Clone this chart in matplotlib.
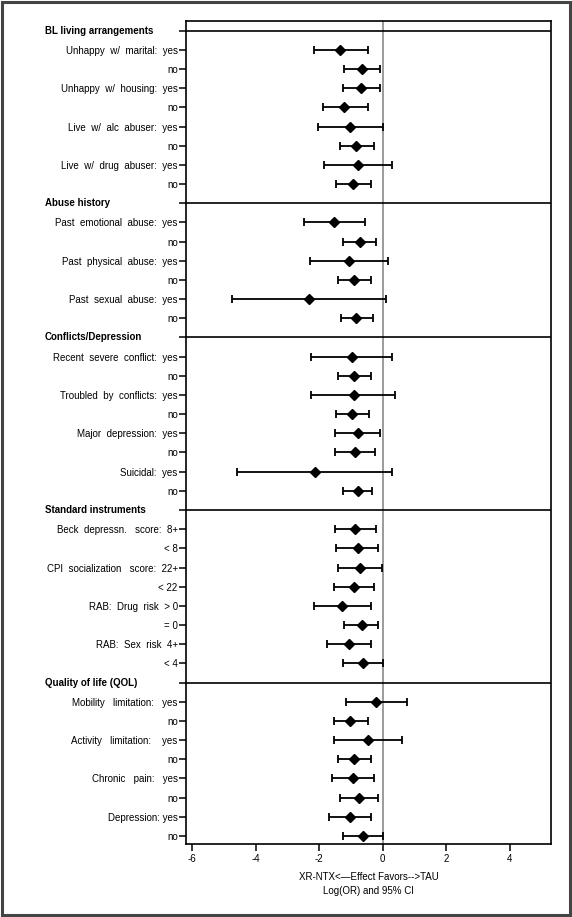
import numpy as np
import matplotlib
matplotlib.use("Agg")
import matplotlib.pyplot as plt
from matplotlib.patches import Rectangle
import matplotlib.transforms as mtransforms

plt.rcParams['font.family'] = ['Liberation Sans', 'DejaVu Sans']

# ---- data ----------------------------------------------------------
sections = ["BL living arrangements", "Abuse history", "Conflicts/Depression",
            "Standard instruments", "Quality of life (QOL)"]
section_sizes = [8, 6, 8, 8, 8]

row_labels = [
    "Unhappy  w/  marital:  yes", "no", "Unhappy  w/  housing:  yes", "no",
    "Live  w/  alc  abuser:  yes", "no", "Live  w/  drug  abuser:  yes", "no",
    "Past  emotional  abuse:  yes", "no", "Past  physical  abuse:  yes", "no",
    "Past  sexual  abuse:  yes", "no",
    "Recent  severe  conflict:  yes", "no", "Troubled  by  conflicts:  yes", "no",
    "Major  depression:  yes", "no", "Suicidal:  yes", "no",
    "Beck  depressn.   score:  8+", "< 8", "CPI  socialization   score:  22+", "< 22",
    "RAB:  Drug  risk  > 0", "= 0", "RAB:  Sex  risk  4+", "< 4",
    "Mobility   limitation:   yes", "no", "Activity   limitation:    yes", "no",
    "Chronic   pain:   yes", "no", "Depression: yes", "no",
]

log_or = [-1.34, -0.65, -0.68, -1.21, -1.02, -0.83, -0.77, -0.94,
          -1.55, -0.71, -1.06, -0.92, -2.32, -0.83,
          -0.98, -0.92, -0.91, -0.96, -0.79, -0.86, -2.15, -0.77,
          -0.86, -0.79, -0.71, -0.92, -1.29, -0.65, -1.06, -0.62,
          -0.22, -1.02, -0.48, -0.91, -0.94, -0.75, -1.03, -0.63]
ci_low = [-2.18, -1.21, -1.26, -1.89, -2.03, -1.34, -1.84, -1.46,
          -2.49, -1.26, -2.28, -1.40, -4.75, -1.31,
          -2.25, -1.41, -2.25, -1.46, -1.50, -1.50, -4.58, -1.26,
          -1.50, -1.46, -1.41, -1.55, -2.18, -1.21, -1.75, -1.26,
          -1.16, -1.55, -1.55, -1.40, -1.61, -1.34, -1.69, -1.26]
ci_high = [-0.48, -0.08, -0.08, -0.48, 0.00, -0.29, 0.30, -0.37,
           -0.57, -0.20, 0.17, -0.37, 0.11, -0.31,
           0.30, -0.37, 0.40, -0.42, -0.08, -0.23, 0.30, -0.33,
           -0.20, -0.14, -0.02, -0.29, -0.37, -0.14, -0.37, 0.00,
           0.75, -0.48, 0.61, -0.37, -0.29, -0.14, -0.37, 0.00]

xticks = [-6, -4, -2, 0, 2, 4]

# ---- positions: header rows + item rows, top to bottom -------------
header_pos = []
row_pos = []
k = 0
for n in section_sizes:
    header_pos.append(k)
    k += 1
    for i in range(n):
        row_pos.append(k)
        k += 1
n_pos = k

fig = plt.figure(figsize=(5.72, 9.17), dpi=100)
ax = fig.add_axes([0.3252, 0.0796, 0.9633 - 0.3252, 0.9774 - 0.0796])

est = np.array(log_or)
lo = np.array(ci_low)
hi = np.array(ci_high)
ax.errorbar(est, row_pos, xerr=[est - lo, hi - est], fmt='D', color='black',
            ms=5, elinewidth=1.3, capsize=3, capthick=1.3, zorder=3)

ax.axvline(0, color='#8a8a8a', lw=1.2, zorder=1)
for hp in header_pos:
    ax.axhline(hp, color='black', lw=1.2, zorder=2)

ax.set_xlim(-6.2, 5.3)
ax.set_ylim(n_pos - 1 + 0.42, -0.52)

ax.set_yticks(header_pos + row_pos)
ax.set_yticklabels([""] * len(header_pos) + row_labels, fontsize=7)
ax.tick_params(axis='y', length=5, width=1.1, pad=1)
ax.set_xticks(xticks)
ax.set_xticklabels([str(t) for t in xticks], fontsize=7)
ax.tick_params(axis='x', length=5, width=1.1, pad=2)
for sp in ax.spines.values():
    sp.set_linewidth(1.2)

# section headers at the left margin
trans = mtransforms.blended_transform_factory(fig.transFigure, ax.transData)
for name, hp in zip(sections, header_pos):
    ax.text(45 / 572, hp, name, transform=trans, ha='left', va='center',
            fontsize=7, fontweight='bold', clip_on=False)

ax.set_xlabel("XR-NTX<\u2014Effect Favors-->TAU\nLog(OR) and 95% CI",
              fontsize=7, labelpad=6, linespacing=1.45)

# outer frame
fig.patches.append(Rectangle((0.004, 0.002), 0.992, 0.996, transform=fig.transFigure,
                             fill=False, edgecolor='#444444', lw=2.2))

fig.savefig("out.png", dpi=100)
